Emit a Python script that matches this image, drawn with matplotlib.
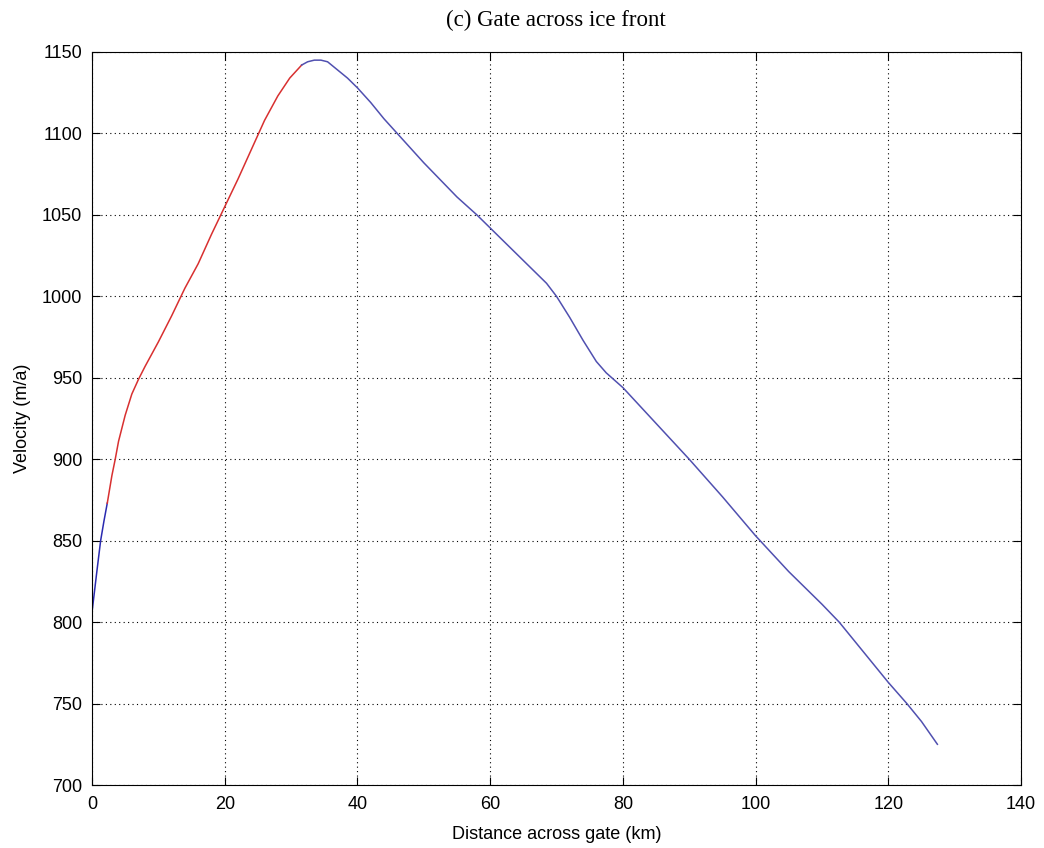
import matplotlib
matplotlib.use('Agg')
import matplotlib.pyplot as plt

# start of the gate (blue)
dist_a = [0, 0.7, 1.3, 1.8, 2.3]
vel_a = [806, 830, 850, 862, 873]

# red section
dist_b = [2.3, 3, 3.5, 4, 5, 6, 7, 8, 10, 12, 14, 16, 18, 20, 22, 24, 26, 28,
          29.8, 31.6]
vel_b = [873, 890, 900, 911, 927, 940, 949, 957, 972, 988, 1005, 1020, 1038,
         1055, 1072, 1090, 1108, 1123, 1134, 1142]

# rest of the gate (blue)
dist_c = [31.6, 32.5, 33.5, 34.5, 35.5, 37, 38.5, 40, 42, 44, 46, 50, 55, 58,
          60, 62, 64.5, 67, 68.5, 70, 72, 74, 76, 77.5, 80, 85, 90, 95, 100,
          105, 110, 112.6, 115, 118, 120, 122.8, 125, 127.4]
vel_c = [1142, 1144, 1145, 1145, 1144, 1139, 1134, 1128, 1119, 1109, 1100,
         1082, 1061, 1050, 1042, 1034, 1024, 1014, 1008, 1000, 987, 973, 960,
         953, 944, 922, 900, 877, 853, 831, 811, 800, 788, 773, 763, 750,
         739, 725]

x_ticks = [0, 20, 40, 60, 80, 100, 120, 140]
y_ticks = [700, 750, 800, 850, 900, 950, 1000, 1050, 1100, 1150]

plt.rcParams['font.family'] = ['Liberation Sans', 'DejaVu Sans']

fig = plt.figure(figsize=(10.44, 8.48), dpi=100)
ax = fig.add_axes([92 / 1044, 63 / 848, 929 / 1044, 733 / 848])

ax.plot(dist_a, vel_a, color='#2a2ab0', lw=1.1)
ax.plot(dist_b, vel_b, color='#d83030', lw=1.1)
ax.plot(dist_c, vel_c, color='#5050b0', lw=1.1)

ax.set_xlim(0, 140)
ax.set_ylim(700, 1150)
ax.set_xticks(x_ticks)
ax.set_yticks(y_ticks)
ax.tick_params(direction='in', top=True, right=True, labelsize=13, length=6, width=0.8)
ax.tick_params(axis='x', pad=8)
ax.tick_params(axis='y', pad=7)
ax.grid(True, linestyle=(0, (1, 3)), color='black', linewidth=0.8)
for s in ax.spines.values():
    s.set_linewidth(0.8)

ax.set_xlabel('Distance across gate (km)', fontsize=13, labelpad=9)
ax.set_ylabel('Velocity (m/a)', fontsize=13, labelpad=8)

fig.text(556 / 1044, 1 - 20 / 848, '(c) Gate across ice front', ha='center', va='center',
         fontsize=16.5, family='Liberation Serif')

fig.savefig('out.png', dpi=100)
